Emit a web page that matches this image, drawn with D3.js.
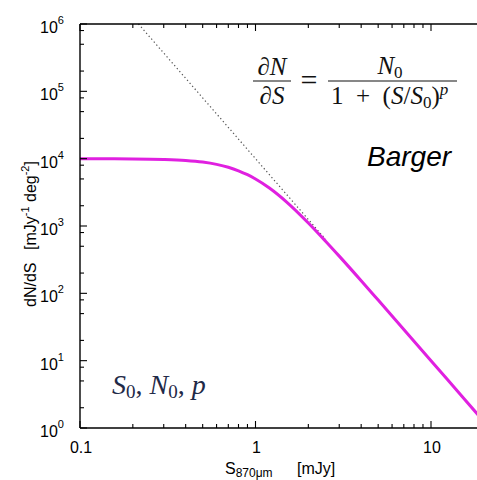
<!DOCTYPE html>
<html>
<head>
<meta charset="utf-8">
<script src="https://cdn.jsdelivr.net/npm/d3@7"></script>
<style>
  body { margin: 0; background: #fff; }
  svg { display: block; }
</style>
</head>
<body>
<svg id="chart"></svg>
<script>
const width = 477;
const height = 480;
const margin = {left: 80, top: 24, bottom: 52};

// curve: flux (mJy) and dN/dS
const fluxValues = [0.1, 0.2, 0.3, 0.4, 0.5, 0.6, 0.7, 0.8, 0.9, 1, 1.2, 1.5, 2, 2.5, 3, 4, 5, 7, 10, 15, 20];
const countValues = [9990, 9920, 9740, 9400, 8890, 8220, 7450, 6610, 5780, 5000, 3670, 2290, 1110, 600, 357, 154, 79.4, 29.1, 10, 2.96, 1.25];

// dotted power-law asymptote
const asymFlux = [0.2154, 2.5];
const asymCount = [1e6, 640];

const yMajor = [1, 10, 100, 1e3, 1e4, 1e5, 1e6];
const yExponents = ['0', '1', '2', '3', '4', '5', '6'];
const yMinorMult = [2, 5, 8];
const xMajor = [0.1, 1, 10];
const xMajorLabels = ['0.1', '1', '10'];

const svg = d3.select('#chart')
  .attr('width', width)
  .attr('height', height);

svg.append('rect').attr('width', width).attr('height', height).attr('fill', '#fff');

const xScale = d3.scaleLog()
  .domain([0.1, 20])
  .range([margin.left, margin.left + 175.5 * Math.log10(200)]);

const yScale = d3.scaleLog()
  .domain([1, 1e6])
  .range([height - margin.bottom, margin.top]);

const x0 = xScale(0.1);
const y0 = yScale(1);
const yTop = yScale(1e6);
const xRight = xScale(20);

// minor x ticks
const xMinor = [];
[0.1, 1, 10].forEach(d => {
  for (let m = 2; m <= 9; m++) {
    if (d * m <= 20) xMinor.push(d * m);
  }
});
const yMinor = [];
yMajor.slice(0, -1).forEach(d => {
  yMinorMult.forEach(m => yMinor.push(d * m));
});

// dotted asymptote
const asymData = asymFlux.map((d, i) => ({s: d, n: asymCount[i]}));
svg.append('path')
  .datum(asymData)
  .attr('d', d3.line().x(d => xScale(d.s)).y(d => yScale(d.n)))
  .attr('fill', 'none')
  .attr('stroke', '#555')
  .attr('stroke-width', 1.2)
  .attr('stroke-dasharray', '1.3,2.6');

// model curve
const curveData = fluxValues.map((d, i) => ({s: d, n: countValues[i]}));
svg.append('path')
  .datum(curveData)
  .attr('d', d3.line().curve(d3.curveMonotoneX).x(d => xScale(d.s)).y(d => yScale(d.n)))
  .attr('fill', 'none')
  .attr('stroke', '#e020e0')
  .attr('stroke-width', 3);

// frame
const frame = svg.append('g').attr('stroke', '#000').attr('stroke-width', 1.4);
frame.append('line').attr('x1', x0).attr('x2', x0).attr('y1', yTop).attr('y2', y0);
frame.append('line').attr('x1', x0).attr('x2', xRight).attr('y1', y0).attr('y2', y0);
frame.append('line').attr('x1', x0).attr('x2', xRight).attr('y1', yTop).attr('y2', yTop);

// ticks
const ticks = svg.append('g').attr('stroke', '#000').attr('stroke-width', 1.1);
ticks.selectAll('.ymaj').data(yMajor).enter().append('line')
  .attr('x1', x0).attr('x2', x0 + 7)
  .attr('y1', d => yScale(d)).attr('y2', d => yScale(d));
ticks.selectAll('.ymin').data(yMinor).enter().append('line')
  .attr('x1', x0).attr('x2', x0 + 4)
  .attr('y1', d => yScale(d)).attr('y2', d => yScale(d));
ticks.selectAll('.xmaj').data(xMajor).enter().append('line')
  .attr('x1', d => xScale(d)).attr('x2', d => xScale(d))
  .attr('y1', y0).attr('y2', y0 - 7);
ticks.selectAll('.xmin').data(xMinor).enter().append('line')
  .attr('x1', d => xScale(d)).attr('x2', d => xScale(d))
  .attr('y1', y0).attr('y2', y0 - 4);
ticks.selectAll('.xmajt').data(xMajor).enter().append('line')
  .attr('x1', d => xScale(d)).attr('x2', d => xScale(d))
  .attr('y1', yTop).attr('y2', yTop + 7);
ticks.selectAll('.xmint').data(xMinor).enter().append('line')
  .attr('x1', d => xScale(d)).attr('x2', d => xScale(d))
  .attr('y1', yTop).attr('y2', yTop + 4);

// tick labels
const sans = 'Liberation Sans, Arial, sans-serif';
const yLabels = svg.selectAll('.ylab').data(yMajor).enter().append('text')
  .attr('font-family', sans)
  .attr('font-size', 16)
  .attr('x', 40)
  .attr('y', d => yScale(d) + 9);
yLabels.append('tspan').text('10');
yLabels.append('tspan').attr('font-size', 11).attr('dy', -9)
  .text((d, i) => yExponents[i]);

svg.selectAll('.xlab').data(xMajor).enter().append('text')
  .attr('font-family', sans)
  .attr('font-size', 16)
  .attr('text-anchor', 'middle')
  .attr('x', d => xScale(d) + 1)
  .attr('y', y0 + 25)
  .text((d, i) => xMajorLabels[i]);

// axis titles
const xTitle = svg.append('text')
  .attr('font-family', sans)
  .attr('font-size', 16)
  .attr('x', 225)
  .attr('y', 474);
xTitle.append('tspan').text('S');
xTitle.append('tspan').attr('font-size', 12).attr('dy', 3).text('870μm');
xTitle.append('tspan').attr('dy', -3).attr('x', 297).text('[mJy]');

const yTitle = svg.append('text')
  .attr('font-family', sans)
  .attr('font-size', 16)
  .attr('text-anchor', 'middle')
  .attr('transform', 'translate(36, 234) rotate(-90)');
yTitle.append('tspan').text('dN/dS\u2002 [mJy');
yTitle.append('tspan').attr('font-size', 11).attr('dy', -7).text('-1');
yTitle.append('tspan').attr('dy', 7).text(' deg');
yTitle.append('tspan').attr('font-size', 11).attr('dy', -7).text('-2');
yTitle.append('tspan').attr('dy', 7).text(']');

// formula
const serif = 'Liberation Serif, Times New Roman, serif';
const eq = svg.append('g').attr('font-family', serif).attr('font-size', 25).attr('fill', '#111');
const lhsTop = eq.append('text').attr('x', 272).attr('y', 75).attr('text-anchor', 'middle');
lhsTop.append('tspan').text('∂');
lhsTop.append('tspan').attr('font-style', 'italic').text('N');
const lhsBot = eq.append('text').attr('x', 272).attr('y', 104).attr('text-anchor', 'middle');
lhsBot.append('tspan').text('∂');
lhsBot.append('tspan').attr('font-style', 'italic').text('S');
eq.append('line').attr('x1', 253).attr('x2', 291).attr('y1', 81).attr('y2', 81)
  .attr('stroke', '#111').attr('stroke-width', 1.2);
eq.append('text').attr('x', 309).attr('y', 90).attr('font-size', 30).attr('text-anchor', 'middle').text('=');
const rhsTop = eq.append('text').attr('x', 390).attr('y', 74).attr('text-anchor', 'middle');
rhsTop.append('tspan').attr('font-style', 'italic').text('N');
rhsTop.append('tspan').attr('font-size', 17).attr('dy', 4).text('0');
eq.append('line').attr('x1', 328).attr('x2', 457).attr('y1', 81).attr('y2', 81)
  .attr('stroke', '#111').attr('stroke-width', 1.2);
const rhsBot = eq.append('text').attr('x', 331).attr('y', 104);
rhsBot.append('tspan').text('1\u2002+\u2002(');
rhsBot.append('tspan').attr('font-style', 'italic').text('S');
rhsBot.append('tspan').text('/');
rhsBot.append('tspan').attr('font-style', 'italic').text('S');
rhsBot.append('tspan').attr('font-size', 17).attr('dy', 4).text('0');
rhsBot.append('tspan').attr('dy', -4).text(')');
rhsBot.append('tspan').attr('font-style', 'italic').attr('font-size', 17).attr('dy', -9).text('p');

// annotations
svg.append('text')
  .attr('font-family', sans)
  .attr('font-style', 'italic')
  .attr('font-size', 28)
  .attr('x', 367)
  .attr('y', 166)
  .text('Barger');

const params = svg.append('text')
  .attr('font-family', serif)
  .attr('font-size', 28)
  .attr('fill', '#1f2a48')
  .attr('x', 112)
  .attr('y', 394);
params.append('tspan').attr('font-style', 'italic').text('S');
params.append('tspan').attr('font-size', 19).attr('dy', 4).text('0');
params.append('tspan').attr('dy', -4).text(', ');
params.append('tspan').attr('font-style', 'italic').text('N');
params.append('tspan').attr('font-size', 19).attr('dy', 4).text('0');
params.append('tspan').attr('dy', -4).text(', ');
params.append('tspan').attr('font-style', 'italic').text('p');
</script>
</body>
</html>
